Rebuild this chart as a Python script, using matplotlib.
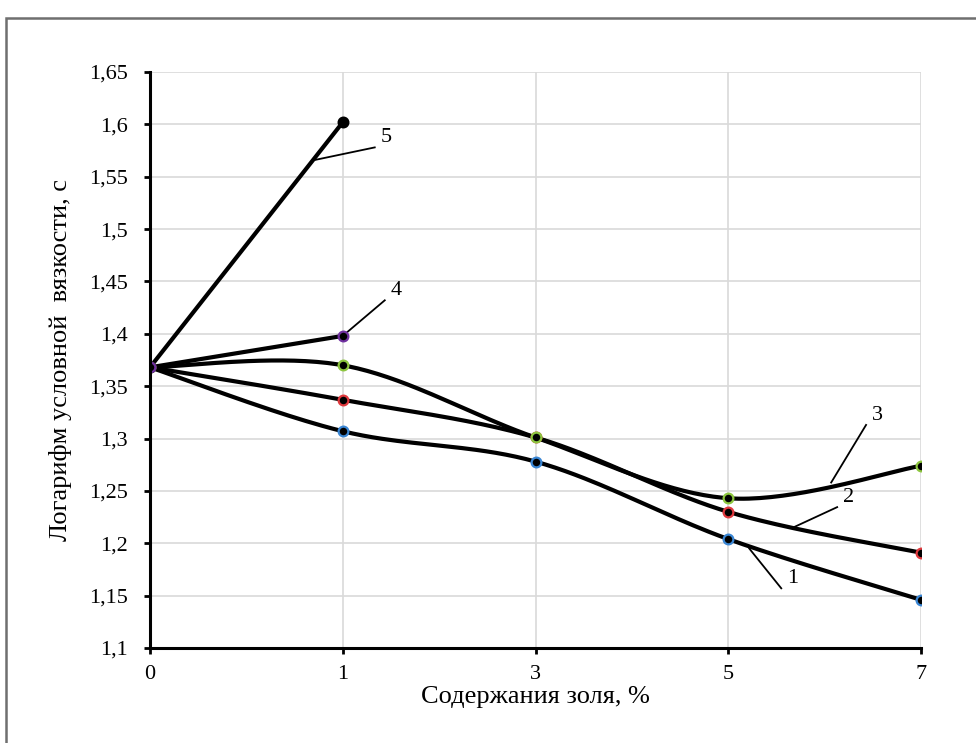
import numpy as np
import matplotlib
matplotlib.use("Agg")
import matplotlib.pyplot as plt
from matplotlib.ticker import FuncFormatter, MultipleLocator
from matplotlib.patches import Rectangle

plt.rcParams['font.family'] = ['Liberation Serif', 'DejaVu Serif']

# ------------------------------
# Data
# ------------------------------
categories = ['0', '1', '3', '5', '7']
s1 = [1.368, 1.307, 1.278, 1.204, 1.146]   # curve 1
s2 = [1.368, 1.337, 1.301, 1.230, 1.191]   # curve 2
s3 = [1.368, 1.370, 1.301, 1.243, 1.274]   # curve 3
s4 = [1.368, 1.398]                        # curve 4
s5 = [1.368, 1.602]                        # curve 5

# curve labels: (text, line start x, y, line end x, y)
labels = [
    ('1', 3.109, 1.195, 3.275, 1.157),
    ('2', 3.342, 1.2155, 3.565, 1.2345),
    ('3', 3.534, 1.258, 3.715, 1.313),
    ('4', 1.000, 1.398, 1.218, 1.432),
    ('5', 0.855, 1.566, 1.166, 1.578),
]

C_BLUE  = "#3a86d4"
C_RED   = "#e0393e"
C_GREEN = "#8dc63f"
C_PURP  = "#7030a0"


def smooth(y, n=40):
    # Catmull-Rom style bezier smoothing (like Excel "smoothed line")
    x = np.arange(len(y), dtype=float)
    pts = np.column_stack([x, np.asarray(y, dtype=float)])
    if len(pts) < 3:
        return pts[:, 0], pts[:, 1]
    ext = np.vstack([pts[0], pts, pts[-1]])
    out = []
    t = np.linspace(0, 1, n)[:, None]
    for i in range(len(pts) - 1):
        p0, p1, p2, p3 = ext[i], ext[i + 1], ext[i + 2], ext[i + 3]
        c1 = p1 + (p2 - p0) / 6
        c2 = p2 - (p3 - p1) / 6
        seg = ((1 - t) ** 3) * p1 + 3 * ((1 - t) ** 2) * t * c1 \
            + 3 * (1 - t) * t ** 2 * c2 + t ** 3 * p2
        out.append(seg if i == 0 else seg[1:])
    out = np.vstack(out)
    return out[:, 0], out[:, 1]


fig = plt.figure(figsize=(9.76, 7.43), dpi=100)
ax = fig.add_axes([150/976, 1 - 648/743, (921-150)/976, (648-72)/743])

# frame around the figure
fig.patches.append(Rectangle((6/976, -0.1), 1.2, 1 - 18/743 + 0.1,
                             transform=fig.transFigure, fill=False,
                             edgecolor='#6f6f6f', lw=1.8, zorder=0))

series = [(s1, C_BLUE), (s2, C_RED), (s3, C_GREEN), (s5, 'black'), (s4, C_PURP)]
for ys, col in series:
    xs, yy = smooth(ys)
    ax.plot(xs, yy, color='black', lw=3, solid_capstyle='round', zorder=3)
for ys, col in series:
    ax.plot(np.arange(len(ys)), ys, ls='none', marker='o', ms=7,
            mfc='black', mec=col, mew=1.6, zorder=4)

for txt, x0, y0, x1, y1 in labels:
    ax.plot([x0, x1], [y0, y1], color='black', lw=1.3, zorder=3)
    ax.text(x1 + 0.03, y1, txt, fontsize=16, ha='left', va='bottom')

ax.set_xlim(0, 4)
ax.set_ylim(1.1, 1.65)
ax.set_xticks(np.arange(len(categories)))
ax.set_xticklabels(categories)
ax.yaxis.set_major_locator(MultipleLocator(0.05))
ax.yaxis.set_major_formatter(FuncFormatter(lambda v, p: f"{round(v, 2):g}".replace('.', ',')))

ax.grid(True, color='#d9d9d9', lw=1.2, zorder=0)
ax.set_axisbelow(True)
for s in ('top', 'right'):
    ax.spines[s].set_visible(False)
for s in ('left', 'bottom'):
    ax.spines[s].set_linewidth(2.2)
    ax.spines[s].set_zorder(5)
ax.tick_params(axis='both', direction='out', length=4, width=2, labelsize=16)
ax.tick_params(axis='y', pad=12)
ax.tick_params(axis='x', pad=8)

ax.set_xlabel("Содержания золя, %", fontsize=19, labelpad=2)
ax.set_ylabel("Логарифм условной  вязкости, с", fontsize=19, labelpad=12)

fig.savefig("out.png", dpi=100)
